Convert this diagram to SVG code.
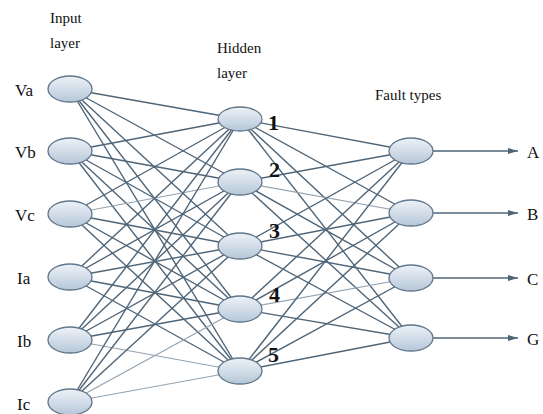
<svg xmlns="http://www.w3.org/2000/svg" width="543" height="414" viewBox="0 0 543 414">
<defs>
<linearGradient id="g" x1="0" y1="0" x2="0" y2="1">
<stop offset="0" stop-color="#eef2f8"/>
<stop offset="1" stop-color="#b6c7d8"/>
</linearGradient>
<marker id="ah" markerWidth="10" markerHeight="8" refX="10" refY="4" orient="auto" markerUnits="userSpaceOnUse">
<path d="M0,1 L10,4 L0,7 Z" fill="#4f6578"/>
</marker>
<style>
.n{fill:url(#g);stroke:#61778b;stroke-width:1.3}
.c line{stroke:#4f6578;stroke-width:1.4}
.c line.l{stroke:#93a3b2;stroke-width:1.2}
.o{stroke:#4f6578;stroke-width:1.4;fill:none}
text{font-family:"Liberation Serif","Times New Roman",serif;fill:#111}
.t{font-size:15px}
.lb{font-size:17px}
.num{font-size:22px;font-weight:bold}
</style>
</defs>
<rect width="543" height="414" fill="#fff"/>
<g class="c" id="connectors">
<!-- input to hidden -->
<line x1="70" y1="89" x2="240" y2="119"/>
<line x1="70" y1="89" x2="240" y2="182"/>
<line x1="70" y1="89" x2="240" y2="246"/>
<line x1="70" y1="89" x2="240" y2="309"/>
<line x1="70" y1="89" x2="240" y2="371"/>
<line x1="70" y1="151" x2="240" y2="119"/>
<line x1="70" y1="151" x2="240" y2="182"/>
<line x1="70" y1="151" x2="240" y2="246"/>
<line x1="70" y1="151" x2="240" y2="309"/>
<line x1="70" y1="151" x2="240" y2="371"/>
<line x1="70" y1="214" x2="240" y2="119"/>
<line x1="70" y1="214" x2="240" y2="182" class="l"/>
<line x1="70" y1="214" x2="240" y2="246"/>
<line x1="70" y1="214" x2="240" y2="309"/>
<line x1="70" y1="214" x2="240" y2="371"/>
<line x1="70" y1="277" x2="240" y2="119"/>
<line x1="70" y1="277" x2="240" y2="182"/>
<line x1="70" y1="277" x2="240" y2="246"/>
<line x1="70" y1="277" x2="240" y2="309"/>
<line x1="70" y1="277" x2="240" y2="371"/>
<line x1="70" y1="340" x2="240" y2="119"/>
<line x1="70" y1="340" x2="240" y2="182"/>
<line x1="70" y1="340" x2="240" y2="246"/>
<line x1="70" y1="340" x2="240" y2="309"/>
<line x1="70" y1="340" x2="240" y2="371" class="l"/>
<line x1="70" y1="402" x2="240" y2="119"/>
<line x1="70" y1="402" x2="240" y2="182"/>
<line x1="70" y1="402" x2="240" y2="246"/>
<line x1="70" y1="402" x2="240" y2="309" class="l"/>
<line x1="70" y1="402" x2="240" y2="371" class="l"/>
<!-- hidden to output -->
<line x1="240" y1="119" x2="411" y2="151"/>
<line x1="240" y1="119" x2="411" y2="213"/>
<line x1="240" y1="119" x2="411" y2="278"/>
<line x1="240" y1="119" x2="411" y2="338"/>
<line x1="240" y1="182" x2="411" y2="151"/>
<line x1="240" y1="182" x2="411" y2="213" class="l"/>
<line x1="240" y1="182" x2="411" y2="278"/>
<line x1="240" y1="182" x2="411" y2="338"/>
<line x1="240" y1="246" x2="411" y2="151"/>
<line x1="240" y1="246" x2="411" y2="213"/>
<line x1="240" y1="246" x2="411" y2="278"/>
<line x1="240" y1="246" x2="411" y2="338"/>
<line x1="240" y1="309" x2="411" y2="151"/>
<line x1="240" y1="309" x2="411" y2="213"/>
<line x1="240" y1="309" x2="411" y2="278" class="l"/>
<line x1="240" y1="309" x2="411" y2="338"/>
<line x1="240" y1="371" x2="411" y2="151"/>
<line x1="240" y1="371" x2="411" y2="213"/>
<line x1="240" y1="371" x2="411" y2="278"/>
<line x1="240" y1="371" x2="411" y2="338"/>
<!-- outputs -->
<line x1="433" y1="151" x2="518" y2="151" class="o" marker-end="url(#ah)"/>
<line x1="433" y1="213" x2="518" y2="213" class="o" marker-end="url(#ah)"/>
<line x1="433" y1="278" x2="518" y2="278" class="o" marker-end="url(#ah)"/>
<line x1="433" y1="338" x2="518" y2="338" class="o" marker-end="url(#ah)"/>
</g>
<g id="labels">
<text class="t" x="50" y="23">Input</text>
<text class="t" x="50" y="48">layer</text>
<text class="t" x="217" y="53">Hidden</text>
<text class="t" x="217" y="78">layer</text>
<text class="t" x="375" y="100">Fault types</text>
</g>
<g id="in-Va"><ellipse class="n" cx="70" cy="89" rx="22" ry="13"/><text class="lb" x="15" y="96">Va</text></g>
<g id="in-Vb"><ellipse class="n" cx="70" cy="151" rx="22" ry="13"/><text class="lb" x="15" y="158">Vb</text></g>
<g id="in-Vc"><ellipse class="n" cx="70" cy="214" rx="22" ry="13"/><text class="lb" x="15" y="221">Vc</text></g>
<g id="in-Ia"><ellipse class="n" cx="70" cy="277" rx="22" ry="13"/><text class="lb" x="17" y="284">Ia</text></g>
<g id="in-Ib"><ellipse class="n" cx="70" cy="340" rx="22" ry="13"/><text class="lb" x="17" y="347">Ib</text></g>
<g id="in-Ic"><ellipse class="n" cx="70" cy="402" rx="22" ry="13"/><text class="lb" x="17" y="410">Ic</text></g>
<g id="h1"><ellipse class="n" cx="240" cy="119" rx="22" ry="12"/><text class="num" x="268" y="130">1</text></g>
<g id="h2"><ellipse class="n" cx="240" cy="182" rx="22" ry="13"/><text class="num" x="269" y="177">2</text></g>
<g id="h3"><ellipse class="n" cx="240" cy="246" rx="22" ry="13"/><text class="num" x="269" y="238">3</text></g>
<g id="h4"><ellipse class="n" cx="240" cy="309" rx="22" ry="13"/><text class="num" x="269" y="302">4</text></g>
<g id="h5"><ellipse class="n" cx="240" cy="371" rx="22" ry="13"/><text class="num" x="268" y="362">5</text></g>
<g id="out-A"><ellipse class="n" cx="411" cy="151" rx="22" ry="13"/><text class="lb" x="527" y="158">A</text></g>
<g id="out-B"><ellipse class="n" cx="411" cy="213" rx="22" ry="13"/><text class="lb" x="527" y="220">B</text></g>
<g id="out-C"><ellipse class="n" cx="411" cy="278" rx="22" ry="13"/><text class="lb" x="527" y="285">C</text></g>
<g id="out-G"><ellipse class="n" cx="411" cy="338" rx="22" ry="13"/><text class="lb" x="527" y="345">G</text></g>
</svg>
